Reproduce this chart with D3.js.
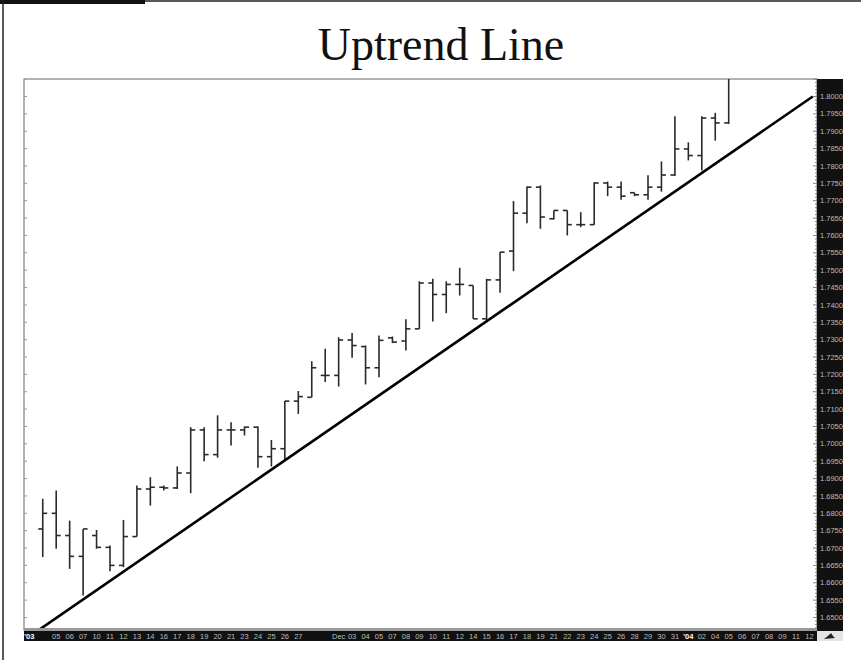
<!DOCTYPE html>
<html>
<head>
<meta charset="utf-8">
<script src="https://cdnjs.cloudflare.com/ajax/libs/d3/7.8.5/d3.min.js"></script>
<style>
  body { margin: 0; background: #fff; }
  svg { display: block; }
</style>
</head>
<body>
<div id="chart"></div>
<script>
// DATA - one entry per price bar (bar i sits in date slot i + 1)
var opens  = [1.6755, 1.6800, 1.6736, 1.6676, 1.6736, 1.6702, 1.6650, 1.6733, 1.6870, 1.6875,
              1.6873, 1.6916, 1.7040, 1.6969, 1.7040, 1.7040, 1.7048, 1.6963, 1.6986, 1.7123,
              1.7134, 1.7197, 1.7197, 1.7299, 1.7280, 1.7219, 1.7305, 1.7296, 1.7331, 1.7463,
              1.7430, 1.7459, 1.7456, 1.7360, 1.7472, 1.7555, 1.7664, 1.7739, 1.7648, 1.7672,
              1.7631, 1.7631, 1.7751, 1.7739, 1.7723, 1.7717, 1.7739, 1.7774, 1.7849, 1.7830,
              1.7938, 1.7924];
var highs  = [1.6842, 1.6866, 1.6779, 1.6755, 1.6752, 1.6707, 1.6781, 1.6880, 1.6904, 1.6880,
              1.6935, 1.7048, 1.7048, 1.7082, 1.7062, 1.7050, 1.7050, 1.7011, 1.7123, 1.7152,
              1.7238, 1.7274, 1.7307, 1.7319, 1.7283, 1.7312, 1.7309, 1.7359, 1.7468, 1.7475,
              1.7468, 1.7507, 1.7456, 1.7475, 1.7552, 1.7699, 1.7741, 1.7744, 1.7672, 1.7672,
              1.7667, 1.7753, 1.7755, 1.7755, 1.7723, 1.7773, 1.7813, 1.7943, 1.7868, 1.7943,
              1.7953, 1.8080];
var lows   = [1.6674, 1.6698, 1.6640, 1.6563, 1.6698, 1.6633, 1.6645, 1.6733, 1.6822, 1.6866,
              1.6870, 1.6858, 1.6950, 1.6960, 1.6995, 1.7024, 1.6931, 1.6935, 1.6952, 1.7086,
              1.7134, 1.7178, 1.7165, 1.7248, 1.7171, 1.7192, 1.7290, 1.7269, 1.7331, 1.7352,
              1.7376, 1.7427, 1.7360, 1.7357, 1.7435, 1.7497, 1.7635, 1.7619, 1.7646, 1.7600,
              1.7624, 1.7631, 1.7713, 1.7703, 1.7713, 1.7703, 1.7726, 1.7771, 1.7816, 1.7787,
              1.7873, 1.7921];
var closes = [1.6800, 1.6736, 1.6676, 1.6755, 1.6702, 1.6650, 1.6733, 1.6870, 1.6875, 1.6873,
              1.6916, 1.7040, 1.6969, 1.7040, 1.7040, 1.7048, 1.6963, 1.6986, 1.7123, 1.7136,
              1.7219, 1.7197, 1.7299, 1.7283, 1.7219, 1.7298, 1.7293, 1.7331, 1.7463, 1.7430,
              1.7459, 1.7459, 1.7360, 1.7472, 1.7552, 1.7664, 1.7739, 1.7653, 1.7672, 1.7631,
              1.7631, 1.7751, 1.7739, 1.7713, 1.7717, 1.7739, 1.7774, 1.7849, 1.7830, 1.7938,
              1.7924, 1.8080];

// date slots along the bottom axis ("" = slot without a printed label)
var slotLabels = ["'03", "", "05", "06", "07", "10", "11", "12", "13", "14", "16", "17", "18", "19",
                  "20", "21", "23", "24", "25", "26", "27", "", "", "Dec", "03", "04", "05", "07",
                  "08", "09", "10", "11", "12", "14", "15", "16", "17", "18", "19", "21", "22", "23",
                  "24", "25", "26", "28", "29", "30", "31", "'04", "02", "04", "05", "06", "07", "08",
                  "09", "11", "12"];

// price axis labels
var yTicks = [1.6500, 1.6550, 1.6600, 1.6650, 1.6700, 1.6750, 1.6800, 1.6850, 1.6900, 1.6950,
              1.7000, 1.7050, 1.7100, 1.7150, 1.7200, 1.7250, 1.7300, 1.7350, 1.7400, 1.7450,
              1.7500, 1.7550, 1.7600, 1.7650, 1.7700, 1.7750, 1.7800, 1.7850, 1.7900, 1.7950,
              1.8000];

// trend line end points: [slot, price]
var trendSlots  = [0.67, 58.25];
var trendPrices = [1.6463, 1.8000];

// SET UP DIMENSIONS
var W = 861, H = 663;
var plot = { left: 24, top: 79, right: 817, bottom: 630 };
var panelRight = 843,
    bandBottom = 641;

var svg = d3.select('#chart').append('svg')
  .attr('width', W)
  .attr('height', H);

// SCALES
var x = d3.scaleLinear()
  .domain([0, slotLabels.length - 1])
  .range([29.3, 809.4]);

var y = d3.scaleLinear()
  .domain([1.65, 1.80])
  .range([617.5, 96.5]);

var bars = opens.map(function(o, i) {
  return { slot: i + 1, open: o, high: highs[i], low: lows[i], close: closes[i] };
});

// OUTER FRAME
svg.append('line')
  .attr('x1', 0).attr('x2', W).attr('y1', 1).attr('y2', 1)
  .attr('stroke', '#222').attr('stroke-width', 1.5);
svg.append('rect')
  .attr('x', 0).attr('y', 0).attr('width', 145).attr('height', 4)
  .attr('fill', '#111');
svg.append('line')
  .attr('x1', 3).attr('x2', 3).attr('y1', 0).attr('y2', 660)
  .attr('stroke', '#222').attr('stroke-width', 1.5);

// TITLE
svg.append('text')
  .attr('x', 441)
  .attr('y', 60)
  .attr('text-anchor', 'middle')
  .style('font-family', '"Liberation Serif", "DejaVu Serif", serif')
  .style('font-size', '46px')
  .style('fill', '#111')
  .text('Uptrend Line');

// PLOT AREA
svg.append('rect')
  .attr('x', plot.left).attr('y', plot.top)
  .attr('width', plot.right - plot.left).attr('height', plot.bottom - plot.top)
  .attr('fill', '#fff')
  .attr('stroke', '#666').attr('stroke-width', 1);

svg.append('clipPath').attr('id', 'clip')
  .append('rect')
  .attr('x', plot.left).attr('y', plot.top)
  .attr('width', plot.right - plot.left).attr('height', plot.bottom - plot.top);

// small ticks on the left edge and right edge of the plot
var minorTicks = d3.range(1.646, 1.805, 0.001);
svg.append('g').selectAll('line.lt')
  .data(yTicks)
  .enter().append('line')
  .attr('x1', plot.left).attr('x2', plot.left + 3)
  .attr('y1', function(d) { return y(d); }).attr('y2', function(d) { return y(d); })
  .attr('stroke', '#999');
svg.append('g').selectAll('line.rt')
  .data(minorTicks)
  .enter().append('line')
  .attr('x1', function(d) { return Math.round(d * 1000) % 5 === 0 ? plot.right - 4 : plot.right - 2; })
  .attr('x2', plot.right)
  .attr('y1', function(d) { return y(d); }).attr('y2', function(d) { return y(d); })
  .attr('stroke', '#888');

// BARS
var barGroup = svg.append('g')
  .attr('clip-path', 'url(#clip)')
  .attr('stroke', '#2a2a2a')
  .attr('stroke-width', 1.6);

var bar = barGroup.selectAll('.bar')
  .data(bars)
  .enter().append('g')
  .attr('class', 'bar');

bar.append('line')
  .attr('x1', function(d) { return x(d.slot); })
  .attr('x2', function(d) { return x(d.slot); })
  .attr('y1', function(d) { return y(d.high); })
  .attr('y2', function(d) { return y(d.low); });

bar.append('line')
  .attr('x1', function(d) { return x(d.slot) - 4.5; })
  .attr('x2', function(d) { return x(d.slot); })
  .attr('y1', function(d) { return y(d.open); })
  .attr('y2', function(d) { return y(d.open); });

bar.append('line')
  .attr('x1', function(d) { return x(d.slot); })
  .attr('x2', function(d) { return x(d.slot) + 4.5; })
  .attr('y1', function(d) { return y(d.close); })
  .attr('y2', function(d) { return y(d.close); });

// TREND LINE
svg.append('path')
  .datum(trendSlots.map(function(s, i) { return [s, trendPrices[i]]; }))
  .attr('clip-path', 'url(#clip)')
  .attr('d', d3.line()
    .x(function(d) { return x(d[0]); })
    .y(function(d) { return y(d[1]); }))
  .attr('fill', 'none')
  .attr('stroke', '#000')
  .attr('stroke-width', 2.6);

// PRICE AXIS (black panel on the right)
svg.append('rect')
  .attr('x', plot.right).attr('y', plot.top)
  .attr('width', panelRight - plot.right).attr('height', plot.bottom - plot.top + 1)
  .attr('fill', '#111');

svg.append('g').selectAll('text')
  .data(yTicks)
  .enter().append('text')
  .attr('x', plot.right + 3)
  .attr('y', function(d) { return y(d); })
  .attr('dy', '0.35em')
  .style('font-family', '"Liberation Sans", Arial, sans-serif')
  .style('font-size', '7.5px')
  .style('fill', '#bbb')
  .text(function(d) { return d3.format('.4f')(d); });

// DATE AXIS (black band along the bottom)
svg.append('rect')
  .attr('x', plot.left).attr('y', plot.bottom - 2)
  .attr('width', plot.right - plot.left).attr('height', 3)
  .attr('fill', '#999');
svg.append('rect')
  .attr('x', plot.left).attr('y', plot.bottom + 1)
  .attr('width', plot.right - plot.left).attr('height', bandBottom - plot.bottom - 1)
  .attr('fill', '#111');

svg.append('g').selectAll('text')
  .data(slotLabels)
  .enter().append('text')
  .attr('x', function(d, i) { return x(i); })
  .attr('y', bandBottom - 2.5)
  .attr('text-anchor', 'middle')
  .style('font-family', '"Liberation Sans", Arial, sans-serif')
  .style('font-size', '7.5px')
  .style('font-weight', function(d) { return d.charAt(0) === "'" ? 'bold' : 'normal'; })
  .style('fill', function(d) { return d.charAt(0) === "'" ? '#fff' : '#bbb'; })
  .text(function(d) { return d; });

// corner box with the little icon
svg.append('rect')
  .attr('x', plot.right).attr('y', plot.bottom + 1)
  .attr('width', panelRight - plot.right).attr('height', bandBottom - plot.bottom - 1)
  .attr('fill', '#e4e4e4');
svg.append('path')
  .attr('d', 'M824,639 L829,635 L831,633 L833,636 L835,638 Z')
  .attr('fill', '#222');
</script>
</body>
</html>
